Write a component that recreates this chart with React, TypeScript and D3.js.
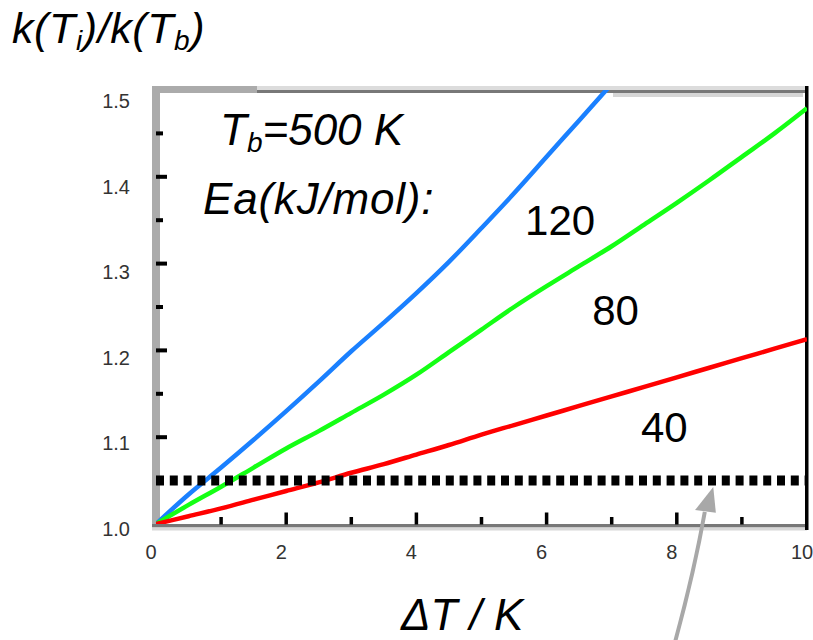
import React from "react";
import * as d3 from "d3";

// ---- data ----
const deltaT = [0, 0.5, 1, 1.5, 2, 2.5, 3, 3.5, 4, 4.5, 5, 5.5, 6, 6.5, 7, 7.5, 8, 8.5, 9, 9.5, 10];
const ea120 = [1.0, 1.034, 1.065, 1.097, 1.13, 1.164, 1.199, 1.232, 1.266, 1.302, 1.341, 1.381, 1.423, 1.465, 1.507,
  null, null, null, null, null, null];
const ea80 = [1.0, 1.022, 1.043, 1.065, 1.087, 1.107, 1.128, 1.149, 1.172, 1.198, 1.224, 1.25, 1.274, 1.297, 1.32,
  1.345, 1.37, 1.396, 1.423, 1.45, 1.479];
const ea40 = [1.0, 1.009, 1.018, 1.028, 1.038, 1.048, 1.059, 1.069, 1.08, 1.091, 1.103, 1.114, 1.125, 1.136, 1.147,
  1.158, 1.169, 1.18, 1.191, 1.202, 1.213];
const seriesNames = ["120", "80", "40"];
const seriesColors = ["#1a80ff", "#14ff14", "#ff0000"];
const thresholdValue = 1.05;
const xTickLabels = [0, 2, 4, 6, 8, 10];
const xMinorTicks = [1, 3, 5, 7, 9];
const yTickLabels = [1.0, 1.1, 1.2, 1.3, 1.4, 1.5];
const yMajorTicks = [1.1, 1.2, 1.3, 1.4];
const yMinorTicks = [1.05, 1.15, 1.25, 1.35, 1.45];

const W = 813;
const H = 640;
const FONT = "'Liberation Sans', Arial, sans-serif";

export default function App() {
  const x = d3.scaleLinear().domain([0, 10]).range([156, 807]);
  const y = d3.scaleLinear().domain([1, 1.5]).range([524, 90]);
  const yLab = d3.scaleLinear().domain([1, 1.5]).range([536, 108]);

  const series = [ea120, ea80, ea40];
  const line = d3
    .line<[number, number | null]>()
    .defined((d) => d[1] !== null)
    .x((d) => x(d[0]))
    .y((d) => y(d[1] as number))
    .curve(d3.curveMonotoneX);

  // annotation arrow (in data units)
  const aStart = [x(7.94), y(0.855)];
  const aCtrl = [x(8.26), y(0.942)];
  const aEnd = [x(8.43), y(1.014)];
  const tip = [x(8.56), y(1.0425)];
  const bl = [x(8.28), y(1.016)];
  const br = [x(8.6), y(1.013)];
  const arrowPath = d3.path();
  arrowPath.moveTo(aStart[0], aStart[1]);
  arrowPath.quadraticCurveTo(aCtrl[0], aCtrl[1], aEnd[0], aEnd[1]);

  const labelPos: [number, number][] = [
    [5.67, 1.333], // 120
    [6.7, 1.229], // 80
    [7.45, 1.0945], // 40
  ];

  return (
    <svg
      width={W}
      height={H}
      style={{ position: "absolute", left: 0, top: 0, background: "#fff" }}
      fontFamily={FONT}
    >
      <defs>
        <clipPath id="plotClip">
          <rect x={x(0)} y={y(1.5)} width={x(10) - x(0)} height={y(1) - y(1.5)} />
        </clipPath>
      </defs>
      <rect x={0} y={0} width={W} height={H} fill="#fff" />

      {/* frame */}
      <rect x={152} y={86} width={8} height={441} fill="#ababab" />
      <rect x={152} y={86} width={105} height={7} fill="#ababab" />
      <rect x={257} y={86} width={550} height={4} fill="#dcdcdc" />
      <rect x={257} y={90} width={550} height={3} fill="#787878" />
      <rect x={613} y={93} width={190} height={4} fill="#d6d6d6" />
      <rect x={152} y={524} width={655} height={3.5} fill="#787878" />
      <rect x={152} y={527.5} width={655} height={3} fill="#d8d8d8" />
      <rect x={805} y={86} width={3.5} height={444} fill="#000" />

      {/* y ticks */}
      {yMajorTicks.map((v) => (
        <rect key={"ym" + v} x={156} y={y(v) - 2} width={11} height={4} fill="#000" />
      ))}
      {yMinorTicks.map((v) => (
        <rect key={"yn" + v} x={156} y={y(v) - 2} width={7} height={4} fill="#000" />
      ))}
      {/* x ticks */}
      {xTickLabels
        .filter((v) => v > 0 && v < 10)
        .map((v) => (
          <rect key={"xm" + v} x={x(v) - 1.75} y={512.5} width={3.5} height={12} fill="#000" />
        ))}
      {xMinorTicks.map((v) => (
        <rect key={"xn" + v} x={x(v) - 1.75} y={517} width={3.5} height={7.5} fill="#000" />
      ))}

      {/* tick labels */}
      {yTickLabels.map((v) => (
        <text key={"yl" + v} x={130} y={yLab(v)} textAnchor="end" fontSize={20} fill="#333">
          {v.toFixed(1)}
        </text>
      ))}
      {xTickLabels.map((v) => (
        <text key={"xl" + v} x={x(v) - 5} y={559} textAnchor="middle" fontSize={20} fill="#333">
          {v}
        </text>
      ))}

      {/* curves */}
      <g clipPath="url(#plotClip)">
        {series.map((s, i) => (
          <path
            key={seriesNames[i]}
            d={line(deltaT.map((t, j) => [t, s[j]]) as [number, number | null][]) || ""}
            fill="none"
            stroke={seriesColors[i]}
            strokeWidth={4.5}
            strokeLinejoin="round"
          />
        ))}
      </g>

      {/* threshold dotted line */}
      <line
        x1={x(0)}
        x2={x(10)}
        y1={y(thresholdValue)}
        y2={y(thresholdValue)}
        stroke="#000"
        strokeWidth={10}
        strokeDasharray="8 5.8"
      />

      {/* series labels */}
      {seriesNames.map((n, i) => (
        <text key={"sl" + n} x={x(labelPos[i][0])} y={y(labelPos[i][1])} fontSize={42} fill="#000">
          {n}
        </text>
      ))}

      {/* annotation text */}
      <text x={220} y={145} fontSize={44} fontStyle="italic" fill="#000">
        T<tspan fontSize={28} dy={7}>b</tspan>
        <tspan dy={-7}>=500 K</tspan>
      </text>
      <text x={203} y={214} fontSize={44} fontStyle="italic" fill="#000" letterSpacing={0.8}>
        Ea(kJ/mol):
      </text>

      {/* axis titles */}
      <text x={12} y={43} fontSize={43} fontStyle="italic" fill="#000" letterSpacing={0.6}>
        k(T<tspan fontSize={28} dy={7}>i</tspan>
        <tspan dy={-7}>)/k(T</tspan>
        <tspan fontSize={28} dy={7}>b</tspan>
        <tspan dy={-7}>)</tspan>
      </text>
      <text x={401} y={630} fontSize={44} fontStyle="italic" fill="#000">
        ΔT / K
      </text>

      {/* arrow */}
      <path d={arrowPath.toString()} fill="none" stroke="#a8a8a8" strokeWidth={4} />
      <path
        d={`M${tip[0]},${tip[1]}L${bl[0]},${bl[1]}L${br[0]},${br[1]}Z`}
        fill="#a8a8a8"
      />
    </svg>
  );
}
